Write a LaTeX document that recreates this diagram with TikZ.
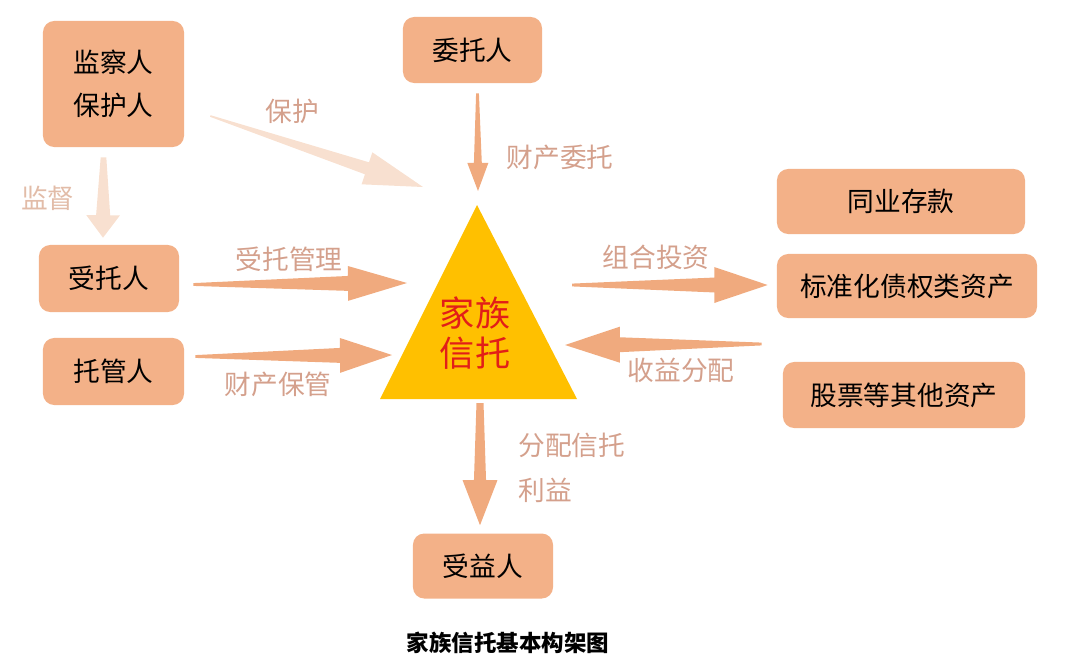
\documentclass[tikz,border=0pt]{standalone}
\usepackage{fontspec}
\newfontfamily\cjk{Noto Sans CJK SC}
\usetikzlibrary{calc}

\definecolor{boxfill}{RGB}{243,177,136}
\definecolor{arrowmain}{RGB}{240,170,126}
\definecolor{palemain}{RGB}{248,224,208}
\definecolor{lblcol}{RGB}{212,160,140}
\definecolor{lblpale}{RGB}{226,188,168}
\definecolor{trifill}{RGB}{255,192,0}
\definecolor{trustred}{RGB}{226,30,24}

% tapering block arrow: style, tail, tip, head length, head half width, shaft half width, tail half width
\newcommand{\fatarrow}[7]{%
  \path ($(#3)!#4!(#2)$) coordinate (hb);
  \fill[#1] ($(#2)!#7!90:(#3)$) -- ($(hb)!#6!90:(#3)$) -- ($(hb)!#5!90:(#3)$) -- (#3)
    -- ($(hb)!#5!-90:(#3)$) -- ($(hb)!#6!-90:(#3)$) -- ($(#2)!#7!-90:(#3)$) -- cycle;}

\begin{document}
\begin{tikzpicture}[x=0.025cm, y=-0.025cm,
  rolebox/.style 2 args={fill=boxfill, rounded corners=8pt, inner sep=0pt, align=center,
    minimum width=#1cm, minimum height=#2cm, font=\cjk\fontsize{19}{30.6}\selectfont},
  lbl/.style={text=lblcol, inner sep=0pt, font=\cjk\fontsize{19}{32}\selectfont}]
  \useasboundingbox (0,0) rectangle (1080,666);

  % parties
  \node[rolebox={3.525}{3.15}] (jiancha) at (113.5,84) {监察人\\保护人};
  \node[rolebox={3.475}{1.65}] (weituo) at (472.5,50) {委托人};
  \node[rolebox={3.5}{1.675}] (shoutuo) at (109,278.5) {受托人};
  \node[rolebox={3.525}{1.675}] (tuoguan) at (113.5,371.5) {托管人};
  \node[rolebox={6.2}{1.625}] (tongye) at (901,201.5) {同业存款};
  \node[rolebox={6.5}{1.6}] (biaozhun) at (907,286) {标准化债权类资产};
  \node[rolebox={6.05}{1.65}] (gupiao) at (904,395) {股票等其他资产};
  \node[rolebox={3.5}{1.625}] (shouyi) at (483,566) {受益人};

  % the trust
  \coordinate (apex) at (477,205);
  \coordinate (baseL) at (380,399);
  \coordinate (baseR) at (577,399);
  \fill[trifill] (apex) -- (baseR) -- (baseL) -- cycle;
  \node[text=trustred, align=center, font=\cjk\fontsize{25}{28.5}\selectfont] (trust) at (475,333) {家族\\信托};

  % arrow ends at the triangle
  \coordinate (protTip) at (423,187);
  \coordinate (mgmtTip) at (407,283);
  \coordinate (custTip) at (392,355);
  \coordinate (investTail) at (572,285);
  \coordinate (yieldTip) at (565,345);
  \coordinate (distTail) at (480,403);

  % flows
  \fatarrow{palemain}{$(jiancha.east)+(26,32)$}{protTip}{42pt}{12pt}{4.5pt}{0.6pt}
  \fatarrow{palemain}{$(jiancha.south)+(-10,10)$}{$(shoutuo.north)+(-6,-7)$}{16pt}{12pt}{5pt}{2pt}
  \fatarrow{arrowmain}{$(weituo.south)+(5,10)$}{$(apex)+(1,-14)$}{20pt}{7.5pt}{2.8pt}{1pt}
  \fatarrow{arrowmain}{$(shoutuo.east)+(14,6)$}{mgmtTip}{42pt}{12.4pt}{5.3pt}{1pt}
  \fatarrow{arrowmain}{$(tuoguan.east)+(11,-15)$}{custTip}{37pt}{12.4pt}{5.3pt}{1pt}
  \fatarrow{arrowmain}{investTail}{$(biaozhun.west)+(-9,-1)$}{38pt}{12.8pt}{5.3pt}{1pt}
  \fatarrow{arrowmain}{$(gupiao.west)+(-21,-51)$}{yieldTip}{39pt}{12.8pt}{5.3pt}{1pt}
  \fatarrow{arrowmain}{distTail}{$(shouyi.north)+(-3,-8)$}{32pt}{12.4pt}{4.3pt}{2.5pt}

  % flow labels
  \node[lbl] (protL) at (292,111) {保护};
  \node[lbl, text=lblpale] (superL) at (48,198) {监督};
  \node[lbl] (entrustL) at (560,157) {财产委托};
  \node[lbl] (mgmtL) at (289,259) {受托管理};
  \node[lbl] (custL) at (278,384) {财产保管};
  \node[lbl] (investL) at (656,257) {组合投资};
  \node[lbl] (yieldL) at (681,370) {收益分配};
  \node[lbl, align=left, anchor=west] (distL) at (518,468) {分配信托\\利益};

  \node[font=\cjk\bfseries\fontsize{16}{19}\selectfont] (caption) at (508,643) {家族信托基本构架图};
\end{tikzpicture}
\end{document}
